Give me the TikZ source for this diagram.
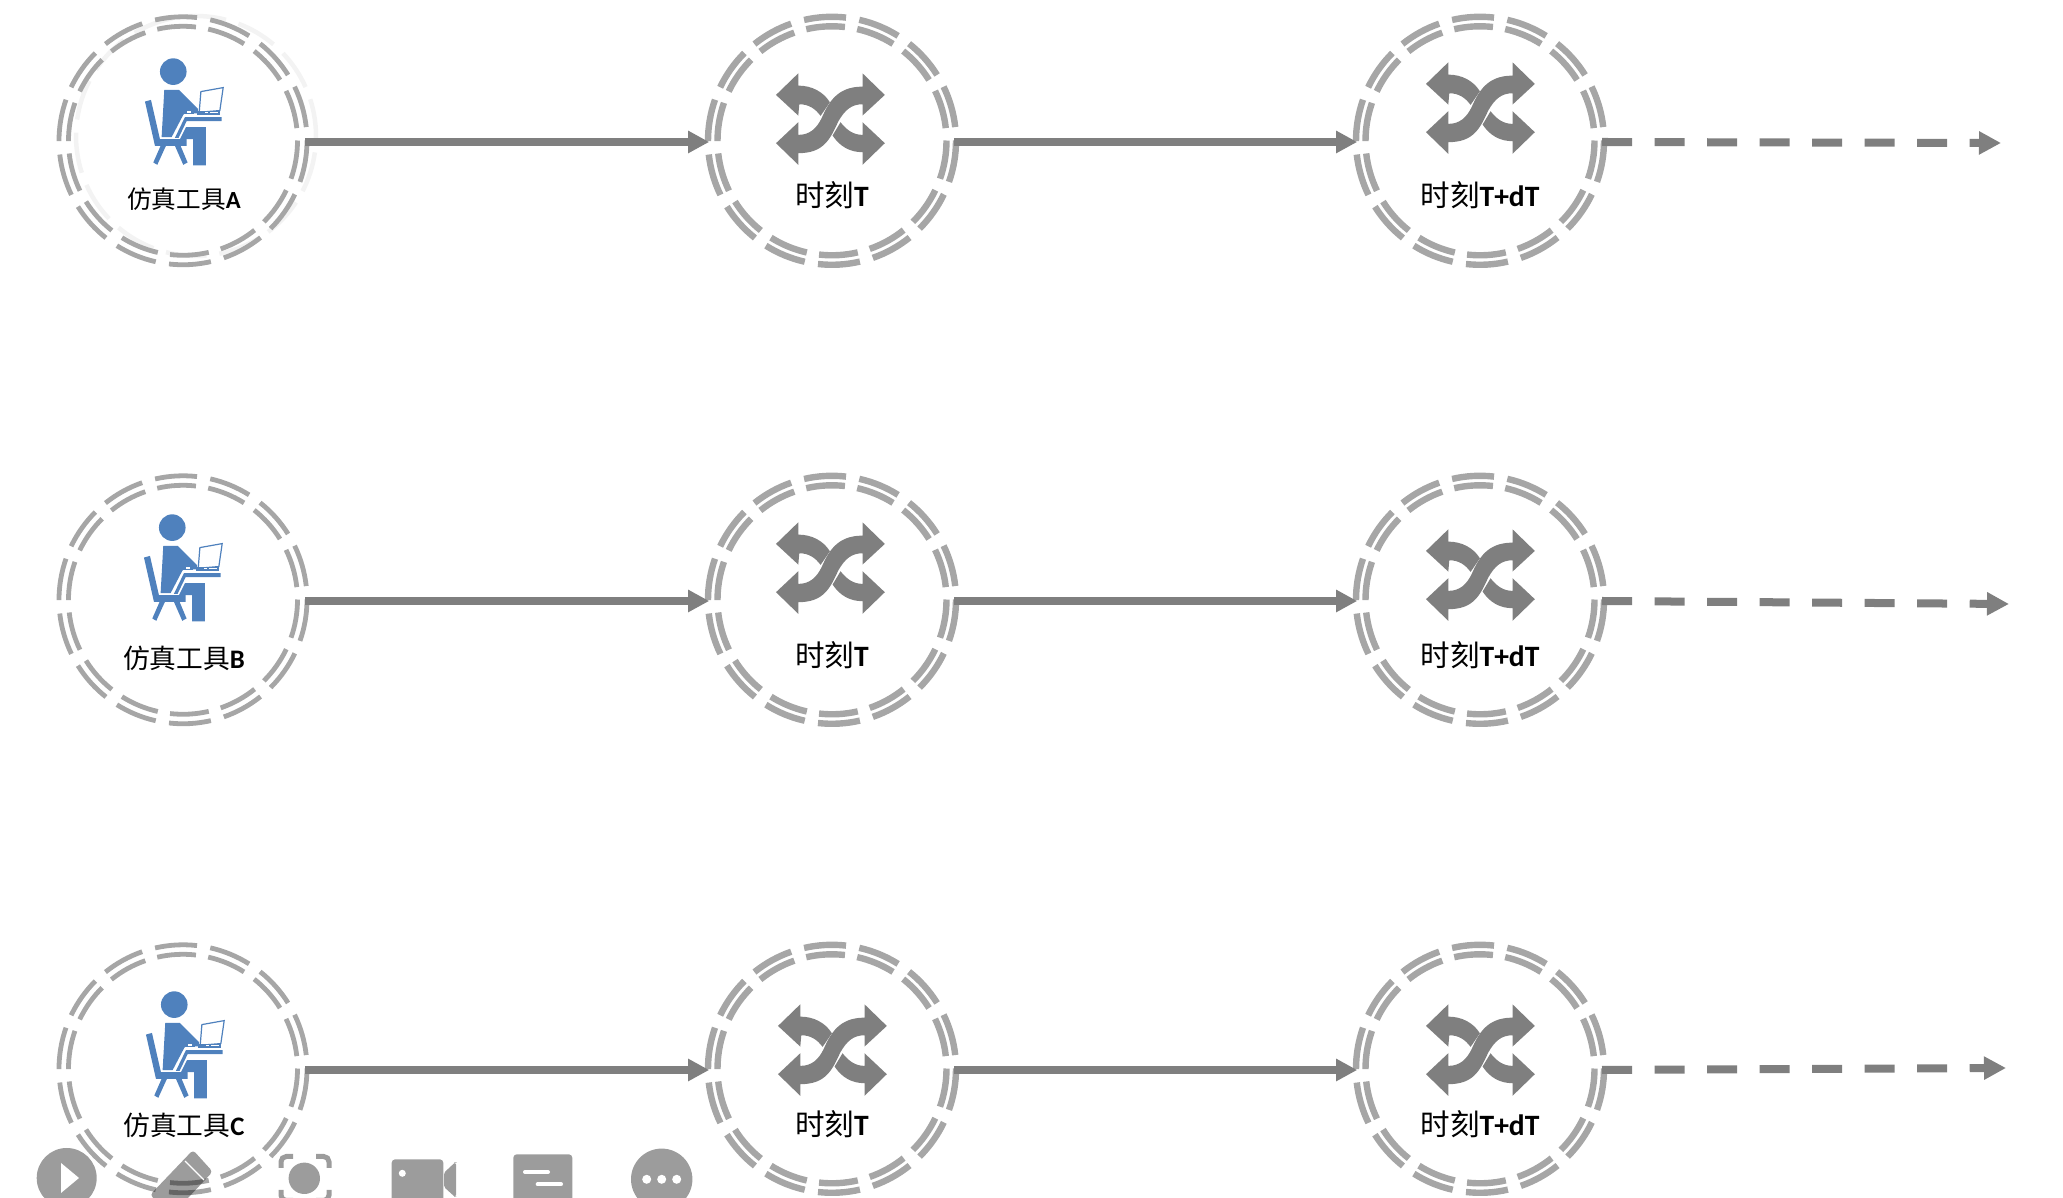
\documentclass[tikz,border=0pt]{standalone}
\usepackage{fontspec}
\setmainfont{Carlito}
\newfontfamily\cjk{Noto Sans CJK SC}
\usetikzlibrary{arrows.meta}
\definecolor{RingGray}{RGB}{166,166,166}
\definecolor{GhostGray}{RGB}{243,243,243}
\definecolor{FlowGray}{RGB}{127,127,127}
\definecolor{PersonBlue}{RGB}{79,129,189}
\tikzset{
    ringnode/.style={circle, minimum size=2.52cm, inner sep=0pt},
    ringthin/.style={line width=0.048cm, yshift=0.012cm},
    ringthick/.style={line width=0.064cm, yshift=0.012cm},
    flowline/.style={draw=FlowGray, line width=0.075cm, shorten >=-0.04cm, -{Triangle[length=0.21cm,width=0.21cm]}},
    dashline/.style={draw=FlowGray, line width=0.08cm, dash pattern=on 0.3cm off 0.225cm, -{Triangle[length=0.22cm,width=0.22cm]}},
    toollabel/.style={font=\fontsize{7}{8}\selectfont, inner sep=0pt},
    timelabel/.style={font=\fontsize{8.4}{9}\selectfont, inner sep=0pt},
    barfill/.style={fill=black, fill opacity=0.39},
    barline/.style={draw=black, draw opacity=0.39, line width=0.05cm, rounded corners=1.5pt},
    ringpic/.pic={
        \foreach \k in {0,...,13} {
            \pgfmathsetmacro\a{-103+25.714*\k}
            \pgfmathsetmacro\b{\a+19.5}
            \draw[RingGray] (\a:124) arc[start angle=\a, end angle=\b, radius=124];
            \draw[RingGray] (\a:114.5) arc[start angle=\a, end angle=\b, radius=114.5];
        }
    },
    personicon/.pic={
        \begin{scope}[x=0.00333cm, y=-0.00333cm, PersonBlue]
            \fill (130,65) circle (40);
            % Torso and arm
            \fill (103,120) -- (147,120) -- (205,178) -- (205,190) -- (163,192) -- (160,195) -- (125,262) -- (95,262) -- cycle;
            % Chair
            \fill (45,155) -- (63,150) -- (90,268) -- (170,268) -- (170,288) -- (75,288) -- cycle;
            \fill (92,288) -- (70,338) -- (82,345) -- (108,288) -- cycle;
            \fill (135,288) -- (160,345) -- (173,338) -- (152,288) -- cycle;
            % Desk and leg
            \fill (165,202) -- (275,202) -- (275,214) -- (170,214) -- (146,264) -- (135,264) -- cycle;
            \fill (168,232) -- (228,232) -- (228,347) -- (190,347) -- (190,268) -- (150,268) -- cycle;
            % Laptop
            \draw[line width=0.012cm, fill=white] (213,125) -- (280,113) -- (270,182) -- (208,187) -- cycle;
            \fill (200,184) -- (270,184) -- (270,196) -- (200,196) -- cycle;
            \fill[white] (225,187) rectangle (235,190);
            \fill[white] (240,187) rectangle (264,190);
            \fill (163,178) rectangle (192,193);
            \fill[white] (170,184) rectangle (182,188);
        \end{scope}
    },
    swapicon/.pic={
        \begin{scope}[x=0.00333cm, y=-0.00333cm, fill=FlowGray]
            % Upper left arrow
            \fill (18,90) -- (85,25) -- (85,62) .. controls (125,62) and (160,80) .. (180,112) -- (152,153) .. controls (135,130) and (115,118) .. (88,118) -- (85,152) -- cycle;
            % Lower right arrow
            \fill (345,235) -- (278,172) -- (278,210) .. controls (250,210) and (230,195) .. (212,172) -- (188,212) .. controls (210,245) and (240,262) .. (278,262) -- (278,300) -- cycle;
            % Crossing arrow
            \fill (18,235) -- (85,172) -- (85,210) .. controls (120,210) and (140,190) .. (155,160) .. controls (175,115) and (200,65) .. (278,65) -- (278,25) -- (345,90) -- (278,152) -- (278,118) .. controls (245,118) and (225,135) .. (205,170) .. controls (180,225) and (160,265) .. (85,265) -- (85,300) -- cycle;
        \end{scope}
    }
}
\begin{document}
\begin{tikzpicture}[x=0.01cm, y=-0.01cm]
    \useasboundingbox (0,0) rectangle (2063,1198);
    % Faint copy of the first ring
    \foreach \k in {0,...,13} {
        \pgfmathsetmacro\a{-95+25.714*\k}
        \pgfmathsetmacro\b{\a+19.5}
        \draw[GhostGray, line width=0.045cm, shift={(196,136)}] (\a:120) arc[start angle=\a, end angle=\b, radius=120];
    }
    % Rows of rings and arrows
    \foreach \row/\yy/\endx/\endy in {A/142/2001/143, B/601/2009/604, C/1070/2006/1068} {
        \node[ringnode] (tool\row) at (183,\yy) {};
        \node[ringnode] (timeT\row) at (832,\yy) {};
        \node[ringnode] (timeD\row) at (1480,\yy) {};
        \coordinate (end\row) at (\endx,\endy);
        \pic[ringthin] at (tool\row) {ringpic};
        \pic[ringthick] at (timeT\row) {ringpic};
        \pic[ringthick] at (timeD\row) {ringpic};
        \draw[flowline] (tool\row) ++(122,0) -- (timeT\row.west);
        \draw[flowline] (timeT\row) ++(122,0) -- (timeD\row.west);
        \draw[dashline] (timeD\row) ++(122,0) -- (end\row);
    }
    % Icons
    \foreach \x/\y in {130/50, 129/506, 131/983} {
        \pic at (\x,\y) {personicon};
    }
    \foreach \x/\y in {770/65, 770/514, 772/996, 1420/54, 1420/521, 1420/996} {
        \pic at (\x,\y) {swapicon};
    }
    % Labels
    \node[toollabel] (labelA) at (184,199) {{\cjk 仿真工具}\textbf{A}};
    \node[toollabel, font=\fontsize{7.6}{9}\selectfont] (labelB) at (184,658) {{\cjk 仿真工具}\textbf{B}};
    \node[toollabel, font=\fontsize{7.6}{9}\selectfont] (labelC) at (184,1125) {{\cjk 仿真工具}\textbf{C}};
    \foreach \row/\yy in {A/195, B/655, C/1124} {
        \node[timelabel] (labelT\row) at (832,\yy) {{\cjk 时刻}\textbf{T}};
        \node[timelabel] (labelD\row) at (1480,\yy) {{\cjk 时刻}\textbf{T+dT}};
    }
    % Player bar
    \fill[barfill] (66.7,1178) circle (30);
    \fill[white] (61,1163) -- (79,1178) -- (61,1193) -- cycle;
    \fill[barfill, rounded corners=1pt] (193,1150) -- (212.7,1171.7) -- (172,1215) -- (150,1195) -- cycle;
    \draw[white, line width=0.012cm] (185,1161) -- (204,1180);
    \fill[barfill] (304.3,1178.3) circle (15.7);
    \draw[barline] (281,1168) -- (281,1156.5) -- (293,1156.5);
    \draw[barline] (316,1156.5) -- (329,1156.5) -- (329,1168);
    \draw[barline] (281,1190) -- (281,1200.5) -- (293,1200.5);
    \draw[barline] (316,1200.5) -- (329,1200.5) -- (329,1190);
    \fill[barfill, rounded corners=1pt] (391.7,1159.3) rectangle (443.3,1210);
    \fill[barfill, rounded corners=0.5pt] (444,1172.7) -- (455,1162.5) -- (456,1162.5) -- (456,1197) -- (455,1197) -- (444,1187) -- cycle;
    \fill[white] (402.3,1173.3) circle (3.5);
    \fill[barfill, rounded corners=1pt] (513.3,1154.3) rectangle (572.3,1210);
    \draw[white, line width=0.04cm, line cap=round] (525,1172) -- (548,1172);
    \draw[white, line width=0.04cm, line cap=round] (537.7,1184.3) -- (561,1184.3);
    \fill[barfill] (661.7,1179.3) circle (30.7);
    \foreach \x in {646.7, 661.7, 676.7} {
        \fill[white] (\x,1179.3) circle (4.5);
    }
\end{tikzpicture}
\end{document}
